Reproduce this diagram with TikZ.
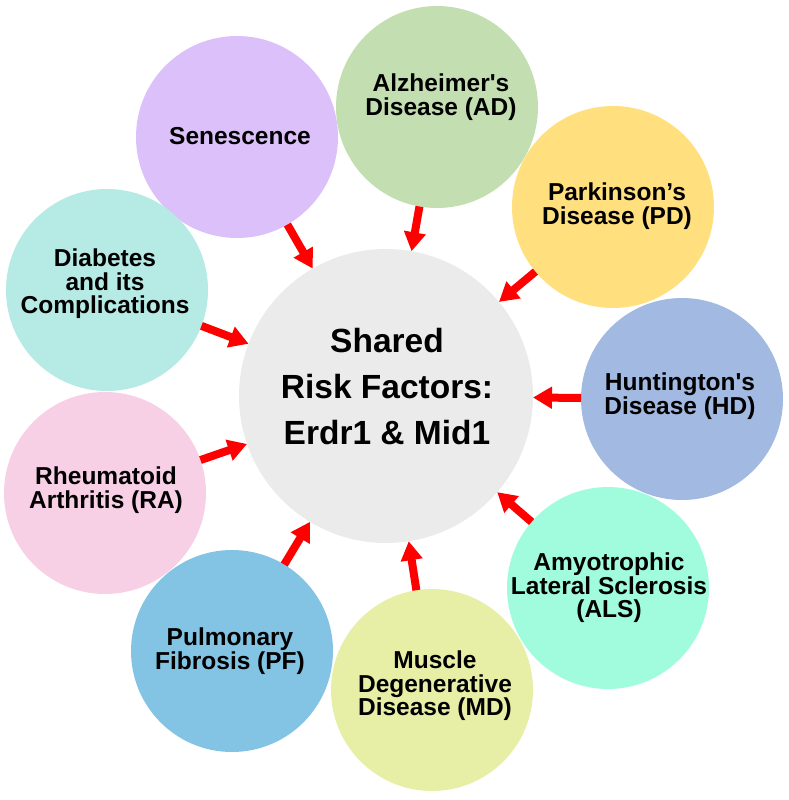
\documentclass[tikz,border=0pt]{standalone}
\usepackage{fontspec}
\setmainfont{Liberation Sans}[Ligatures=TeXOff]
\usetikzlibrary{arrows.meta}
\definecolor{cSen}{HTML}{DCC0FA}
\definecolor{cAD}{HTML}{C3DEB0}
\definecolor{cPD}{HTML}{FFDF7E}
\definecolor{cHD}{HTML}{A2B9E1}
\definecolor{cALS}{HTML}{A0FCDD}
\definecolor{cMD}{HTML}{E6EFA5}
\definecolor{cPF}{HTML}{83C3E4}
\definecolor{cRA}{HTML}{F8D0E6}
\definecolor{cDia}{HTML}{B5EAE5}
\definecolor{cCtr}{HTML}{EBEBEB}
\tikzset{
  bub/.style={circle, draw=none, minimum size=202pt, inner sep=0pt, outer sep=0pt},
  ctrbub/.style={circle, draw=none, fill=cCtr, minimum size=294pt, inner sep=0pt, outer sep=0pt},
  lbl/.style={align=center, inner sep=0pt, font=\bfseries\fontsize{24.5}{23.5}\selectfont},
  ctrlbl/.style={align=center, inner sep=0pt, font=\bfseries\fontsize{33.5}{46}\selectfont},
  arr/.style={draw=red, line width=8pt, -{Triangle[width=21pt,length=19pt]}}
}
\begin{document}
\begin{tikzpicture}[x=1pt,y=-1pt]
\useasboundingbox (0,0) rectangle (788,800);
\node[ctrbub] (ctr) at (386,396) {};
\node[bub, fill=cSen] (sen) at (237,137) {};
\node[bub, fill=cAD]  (ad)  at (437,107) {};
\node[bub, fill=cPD]  (pd)  at (613,207) {};
\node[bub, fill=cHD]  (hd)  at (682,399) {};
\node[bub, fill=cALS] (als) at (608,588) {};
\node[bub, fill=cMD]  (md)  at (432,690) {};
\node[bub, fill=cPF]  (pf)  at (232,651) {};
\node[bub, fill=cRA]  (ra)  at (105,493) {};
\node[bub, fill=cDia] (dia) at (107,290) {};

\node[ctrlbl] (ctrt) at (387,387) {Shared\\Risk Factors:\\Erdr1 \& Mid1};
\node[lbl] (sent) at (240,136) {Senescence};
\node[lbl] (adt)  at (441,97) {Alzheimer's\\Disease (AD)};
\node[lbl] (pdt)  at (617,206) {Parkinson’s\\Disease (PD)};
\node[lbl] (hdt)  at (680,396) {Huntington's\\Disease (HD)};
\node[lbl] (alst) at (609,588) {Amyotrophic\\Lateral Sclerosis\\(ALS)};
\node[lbl] (mdt)  at (435,686) {Muscle\\Degenerative\\Disease (MD)};
\node[lbl] (pft)  at (230,651) {Pulmonary\\Fibrosis (PF)};
\node[lbl] (rat)  at (106,490) {Rheumatoid\\Arthritis (RA)};
\node[lbl] (diat) at (105,284) {Diabetes\\and its\\Complications};

\foreach \n in {sen,ad,pd,hd,als,md,pf,ra,dia}
  \draw[arr] (\n) -- (ctr);
\end{tikzpicture}
\end{document}
